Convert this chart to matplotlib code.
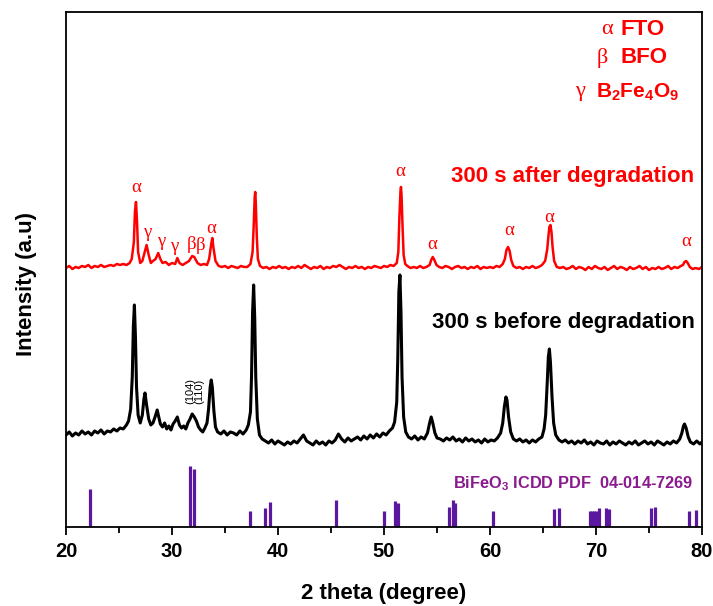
import matplotlib
matplotlib.use("Agg")
import matplotlib.pyplot as plt
from matplotlib.ticker import MultipleLocator

plt.rcParams.update({
    "font.family": ["Liberation Sans", "DejaVu Sans"],
    "mathtext.fontset": "custom",
    "mathtext.rm": "Liberation Sans",
    "mathtext.bf": "Liberation Sans:bold",
    "axes.linewidth": 1.3,
})

# ---- data (intensity in arbitrary units) -----------------------------------
# 300 s before degradation (black)
X_BEFORE = [
    20.0, 20.3, 20.6, 20.9, 21.2, 21.5, 21.8, 22.1, 22.4, 22.7, 23.0, 23.3, 23.6, 23.9, 24.2, 24.5, 24.8, 25.1, 25.4, 25.7,
    25.9, 26.1, 26.25, 26.35, 26.45, 26.55, 26.65, 26.8, 27.0, 27.2, 27.35, 27.45, 27.6, 27.8, 28.0, 28.2, 28.4, 28.6, 28.75, 28.9,
    29.1, 29.3, 29.5, 29.7, 29.9, 30.1, 30.3, 30.5, 30.7, 30.9, 31.1, 31.3, 31.5, 31.7, 31.9, 32.1, 32.3, 32.5, 32.7, 32.9,
    33.1, 33.3, 33.45, 33.6, 33.7, 33.8, 33.95, 34.1, 34.3,
    34.6, 34.9, 35.2, 35.5, 35.8, 36.1, 36.4, 36.7, 37.0, 37.2,
    37.4, 37.5, 37.6, 37.7, 37.8, 37.9, 38.05, 38.25, 38.5,
    38.8, 39.1, 39.4, 39.7, 40.0, 40.3, 40.6, 40.9, 41.2, 41.5, 41.8, 42.1, 42.4, 42.7, 43.0, 43.3, 43.6, 43.9, 44.2, 44.5,
    44.8, 45.1, 45.4, 45.7, 46.0, 46.3, 46.6, 46.9, 47.2, 47.5, 47.8, 48.1, 48.4, 48.7, 49.0, 49.3, 49.6, 49.9, 50.2, 50.5, 50.8,
    51.0, 51.2, 51.3, 51.4, 51.5, 51.6, 51.7, 51.85, 52.05, 52.3,
    52.6, 52.9, 53.2, 53.5, 53.8, 54.1, 54.3, 54.45, 54.6, 54.8, 55.0,
    55.3, 55.6, 55.9, 56.2, 56.5, 56.8, 57.1, 57.4, 57.7, 58.0, 58.3, 58.6, 58.9, 59.2, 59.5, 59.8, 60.1, 60.4, 60.7, 61.0,
    61.2, 61.35, 61.5, 61.6, 61.75, 61.95, 62.2,
    62.5, 62.8, 63.1, 63.4, 63.7, 64.0, 64.3, 64.6, 64.9, 65.1,
    65.25, 65.4, 65.5, 65.6, 65.7, 65.85, 66.0, 66.2, 66.5,
    66.8, 67.1, 67.4, 67.7, 68.0, 68.3, 68.6, 68.9, 69.2, 69.5, 69.8, 70.1, 70.4, 70.7, 71.0, 71.3, 71.6, 71.9, 72.2, 72.5,
    72.8, 73.1, 73.4, 73.7, 74.0, 74.3, 74.6, 74.9, 75.2, 75.5, 75.8, 76.1, 76.4, 76.7, 77.0, 77.3, 77.6, 77.9,
    78.1, 78.25, 78.35, 78.5, 78.7, 78.9, 79.2, 79.5, 79.8, 80.0,
]
Y_BEFORE = [
    92, 95, 91, 94, 92, 96, 93, 95, 92, 96, 94, 97, 93, 96, 95, 98, 96, 99, 98, 102,
    106, 118, 150, 200, 222, 190, 140, 112, 104, 112, 128, 134, 122, 108, 102, 104, 110, 117, 110, 103,
    100, 104, 98, 101, 97, 103, 106, 110, 102, 99, 101, 98, 104, 108, 113, 110, 106, 100, 97, 95,
    99, 104, 118, 140, 147, 140, 116, 100, 95,
    93, 96, 92, 95, 94, 92, 96, 93, 97, 102,
    115, 150, 215, 242, 210, 150, 108, 92, 88,
    86, 84, 87, 83, 86, 84, 82, 85, 83, 86, 84, 88, 92, 86, 84, 82, 86, 83, 85, 82,
    86, 84, 87, 93, 88, 85, 89, 86, 88, 90, 87, 91, 88, 92, 89, 93, 90, 94, 92, 96, 99,
    105, 125, 170, 235, 252, 215, 150, 110, 95, 90,
    88, 91, 87, 90, 88, 94, 104, 110, 104, 94, 89,
    88, 86, 89, 87, 90, 86, 88, 85, 89, 86, 88, 85, 87, 84, 88, 85, 87, 86, 89, 94,
    104, 120, 130, 127, 110, 95, 88,
    86, 88, 85, 87, 84, 87, 85, 88, 90, 98,
    112, 145, 170, 178, 165, 130, 104, 92, 87,
    85, 87, 84, 86, 83, 86, 84, 87, 83, 85, 82, 86, 84, 83, 86, 82, 85, 83, 86, 84,
    82, 85, 83, 86, 82, 84, 86, 83, 85, 82, 86, 84, 82, 85, 83, 86, 84, 88,
    94, 101, 103, 99, 90, 85, 83, 86, 83, 85,
]

# 300 s after degradation (red)
X_AFTER = [
    20.0, 20.3, 20.6, 20.9, 21.2, 21.5, 21.8, 22.1, 22.4, 22.7, 23.0, 23.3, 23.6, 23.9, 24.2, 24.5, 24.8, 25.1, 25.4, 25.7,
    26.0, 26.2, 26.4, 26.5, 26.6, 26.7, 26.8, 27.0, 27.2, 27.4, 27.6, 27.8, 28.0, 28.2, 28.45, 28.7, 28.9, 29.1, 29.4, 29.7,
    30.0, 30.3, 30.5, 30.7, 31.0, 31.3, 31.6, 31.9, 32.1, 32.4, 32.7, 33.0, 33.3, 33.5, 33.7, 33.8, 33.9, 34.1, 34.4,
    34.7, 35.0, 35.3, 35.6, 35.9, 36.2, 36.5, 36.8, 37.1, 37.4,
    37.6, 37.7, 37.8, 37.85, 37.9, 38.0, 38.1, 38.3, 38.6,
    38.9, 39.2, 39.5, 39.8, 40.1, 40.4, 40.7, 41.0, 41.3, 41.6, 41.9, 42.2, 42.5, 42.8, 43.1, 43.4, 43.7, 44.0, 44.3, 44.6,
    44.9, 45.2, 45.5, 45.8, 46.1, 46.4, 46.7, 47.0, 47.3, 47.6, 47.9, 48.2, 48.5, 48.8, 49.1, 49.4, 49.7, 50.0, 50.3, 50.6, 50.9,
    51.2, 51.35, 51.45, 51.55, 51.6, 51.65, 51.75, 51.85, 52.0, 52.2, 52.5,
    52.8, 53.1, 53.4, 53.7, 54.0, 54.3, 54.45, 54.6, 54.75, 54.95, 55.2,
    55.5, 55.8, 56.1, 56.4, 56.7, 57.0, 57.3, 57.6, 57.9, 58.2, 58.5, 58.8, 59.1, 59.4, 59.7, 60.0, 60.3, 60.6, 60.9, 61.2,
    61.4, 61.55, 61.7, 61.85, 62.0, 62.2, 62.5,
    62.8, 63.1, 63.4, 63.7, 64.0, 64.3, 64.6, 64.9, 65.2,
    65.4, 65.5, 65.6, 65.7, 65.8, 65.9, 66.05, 66.3, 66.6,
    66.9, 67.2, 67.5, 67.8, 68.1, 68.4, 68.7, 69.0, 69.3, 69.6, 69.9, 70.2, 70.5, 70.8, 71.1, 71.4, 71.7, 72.0, 72.3, 72.6,
    72.9, 73.2, 73.5, 73.8, 74.1, 74.4, 74.7, 75.0, 75.3, 75.6, 75.9, 76.2, 76.5, 76.8, 77.1, 77.4, 77.7, 78.0,
    78.2, 78.35, 78.5, 78.65, 78.85, 79.1, 79.4, 79.7, 80.0,
]
Y_AFTER = [
    259, 261, 258, 260, 259, 261, 260, 262, 259, 261, 260, 262, 260, 261, 262, 261, 263, 262, 263, 262,
    264, 268, 285, 315, 325, 305, 275, 264, 266, 274, 282, 272, 264, 266, 268, 274, 268, 264, 265, 262,
    264, 263, 269, 264, 262, 264, 266, 271, 270, 264, 262, 263, 262, 268, 283, 289, 280, 266, 261,
    260, 261, 259, 261, 260, 259, 261, 260, 260, 263,
    275, 300, 330, 335, 325, 290, 268, 261, 259,
    260, 258, 260, 259, 261, 259, 260, 258, 260, 259, 261, 259, 262, 260, 258, 260, 259, 261, 258, 260,
    259, 261, 260, 262, 260, 258, 260, 259, 261, 259, 260, 258, 260, 259, 261, 260, 259, 261, 260, 262, 261,
    264, 275, 310, 335, 340, 332, 300, 272, 263, 261, 259,
    260, 259, 261, 259, 260, 262, 267, 270, 267, 262, 260,
    259, 261, 260, 258, 260, 261, 259, 260, 258, 260, 259, 261, 258, 260, 259, 260, 259, 261, 260, 263,
    268, 277, 280, 276, 267, 261, 259,
    260, 258, 260, 259, 261, 259, 260, 262, 266,
    278, 290, 300, 302, 295, 280, 266, 260, 259,
    260, 258, 259, 261, 258, 260, 259, 257, 260, 258, 261, 259, 258, 260, 257, 259, 261, 258, 260, 259,
    257, 260, 258, 259, 261, 258, 260, 257, 259, 258, 260, 258, 259, 261, 258, 260, 259, 261,
    262, 265, 266, 264, 260, 258, 259, 258, 260,
]

# BiFeO3 reference lines (ICDD PDF 04-014-7269)
REF_POS = [22.3, 31.65, 32.05, 37.4, 38.8, 39.25, 45.5, 50.0, 51.05, 51.35, 56.1, 56.5, 56.65, 60.3,
           66.0, 66.5, 69.4, 69.6, 69.8, 70.0, 70.3, 70.9, 71.2, 75.2, 75.6, 78.8, 79.4]
REF_INT = [38, 61, 58, 16, 19, 25, 27, 16, 26, 24, 20, 27, 24, 16,
           18, 19, 16, 16, 16, 16, 19, 19, 18, 19, 20, 16, 17]

# phase markers on the red pattern
MARK_POS = [26.65, 27.7, 29.0, 30.25, 31.85, 32.7, 33.65, 51.5, 54.5, 61.8, 65.6, 78.5]
MARK_Y = [339, 294, 285, 280, 282, 281, 298, 355, 282, 296, 309, 285]
MARK_SYM = ["α", "γ", "γ", "γ", "β", "β", "α", "α", "α", "α", "α", "α"]

RED = "#ff0000"
PURPLE_LINE = "#5b17a0"
PURPLE_TXT = "#8b1a8f"
SERIF = ["Liberation Serif", "DejaVu Serif"]

fig = plt.figure(figsize=(7.13, 6.06), dpi=100)
ax = fig.add_axes([0.0926, 0.1304, 0.892, 0.8498])

ax.plot(X_BEFORE, Y_BEFORE, color="black", lw=2.2)
ax.plot(X_AFTER, Y_AFTER, color=RED, lw=1.8)
ax.vlines(REF_POS, 0, REF_INT, color=PURPLE_LINE, lw=2.3)

ax.set_xlim(20, 80)
ax.set_ylim(0, 515)
ax.set_yticks([])
ax.xaxis.set_major_locator(MultipleLocator(10))
ax.xaxis.set_minor_locator(MultipleLocator(5))
ax.tick_params(axis="x", which="major", direction="out", length=6, width=1.3, labelsize=14.5, pad=5)
ax.tick_params(axis="x", which="minor", direction="out", length=4, width=1.3)
for lbl in ax.get_xticklabels():
    lbl.set_fontweight("bold")

ax.set_xlabel("2 theta (degree)", fontsize=16, fontweight="bold")
ax.xaxis.set_label_coords(0.5, -0.108)
ax.set_ylabel("Intensity (a.u)", fontsize=16, fontweight="bold")
ax.yaxis.set_label_coords(-0.045, 0.472)

# phase markers
for x, y, s in zip(MARK_POS, MARK_Y, MARK_SYM):
    ax.text(x, y, s, color=RED, fontsize=13.5, ha="center", va="center", family=SERIF)

# legend of phases (top right)
ax.text(71.6, 497, "α", color=RED, fontsize=16, ha="right", va="center", family=SERIF)
ax.text(72.3, 497, "FTO", color=RED, fontsize=16, fontweight="bold", ha="left", va="center")
ax.text(71.1, 469, "β", color=RED, fontsize=16, ha="right", va="center", family=SERIF)
ax.text(72.3, 469, "BFO", color=RED, fontsize=16, fontweight="bold", ha="left", va="center")
ax.text(69.0, 435, "γ", color=RED, fontsize=16, ha="right", va="center", family=SERIF)
ax.text(70.0, 435, r"$\mathbf{B_2Fe_4O_9}$", color=RED, fontsize=15, ha="left", va="center")

ax.text(79.3, 350, "300 s after degradation", color=RED, fontsize=16, fontweight="bold",
        ha="right", va="center")
ax.text(79.3, 204, "300 s before degradation", color="black", fontsize=16, fontweight="bold",
        ha="right", va="center")
ax.text(79.2, 43, r"BiFeO$_\mathbf{3}$ ICDD PDF  04-014-7269", color=PURPLE_TXT, fontsize=11.8,
        fontweight="bold", ha="right", va="center")

ax.text(31.75, 136, "(104)", fontsize=8, rotation=90, ha="center", va="center")
ax.text(32.6, 136, "(110)", fontsize=8, rotation=90, ha="center", va="center")

fig.savefig("out.png", dpi=100, facecolor="white")
